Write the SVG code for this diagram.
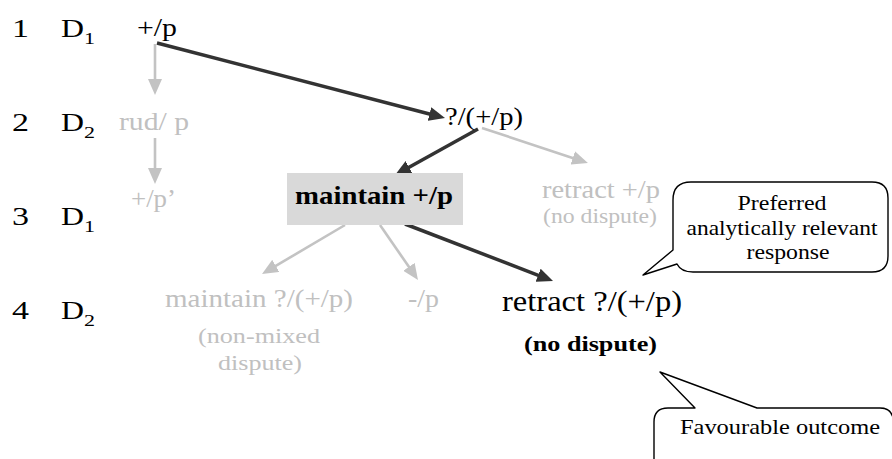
<svg xmlns="http://www.w3.org/2000/svg" width="892" height="459" viewBox="0 0 892 459">
  <style>
    text { font-family: "Liberation Serif", "Times New Roman", serif; font-size: 26px; fill: #000; }
    .dim { fill: #c0c0c0; }
    .bold { font-weight: bold; }
    .sub { font-size: 17px; }
    .mid { text-anchor: middle; }
    .lnk { fill: none; stroke-linecap: butt; }
    .dark { stroke: #333333; stroke-width: 3.5; marker-end: url(#headDark); }
    .soft { stroke: #c3c3c3; stroke-width: 2.6; marker-end: url(#headSoft); }
    .bubble { fill: #ffffff; stroke: #000; stroke-width: 1.4; stroke-linejoin: round; }
  </style>
  <defs>
    <marker id="headDark" viewBox="0 0 16 14" refX="3" refY="7" markerWidth="16" markerHeight="14" markerUnits="userSpaceOnUse" orient="auto">
      <path d="M0,0 L16,7 L0,14 Z" fill="#333333"/>
    </marker>
    <marker id="headSoft" viewBox="0 0 16 14" refX="3" refY="7" markerWidth="16" markerHeight="14" markerUnits="userSpaceOnUse" orient="auto">
      <path d="M0,0 L16,7 L0,14 Z" fill="#c3c3c3"/>
    </marker>
  </defs>

  <!-- move numbers and speakers -->
  <g id="rows">
    <text x="12" y="37" textLength="17" lengthAdjust="spacingAndGlyphs">1</text>
    <text x="61" y="37" textLength="23" lengthAdjust="spacingAndGlyphs">D</text>
    <text class="sub" x="84" y="44" textLength="11" lengthAdjust="spacingAndGlyphs">1</text>

    <text x="12" y="131" textLength="17" lengthAdjust="spacingAndGlyphs">2</text>
    <text x="61" y="131" textLength="23" lengthAdjust="spacingAndGlyphs">D</text>
    <text class="sub" x="84" y="138" textLength="11" lengthAdjust="spacingAndGlyphs">2</text>

    <text x="12" y="225" textLength="17" lengthAdjust="spacingAndGlyphs">3</text>
    <text x="61" y="225" textLength="23" lengthAdjust="spacingAndGlyphs">D</text>
    <text class="sub" x="84" y="232" textLength="11" lengthAdjust="spacingAndGlyphs">1</text>

    <text x="12" y="319" textLength="17" lengthAdjust="spacingAndGlyphs">4</text>
    <text x="61" y="319" textLength="23" lengthAdjust="spacingAndGlyphs">D</text>
    <text class="sub" x="84" y="326" textLength="11" lengthAdjust="spacingAndGlyphs">2</text>
  </g>

  <!-- connectors -->
  <g id="connectors" class="lnk">
    <line class="soft" x1="155" y1="44" x2="155" y2="82"/>
    <line class="soft" x1="155" y1="138" x2="155" y2="171"/>
    <line class="dark" x1="157" y1="43" x2="432.4" y2="114.7"/>
    <line class="dark" x1="478" y1="129" x2="406.4" y2="168.7"/>
    <line class="soft" x1="482" y1="128" x2="575.6" y2="158.9"/>
    <line class="soft" x1="345" y1="225" x2="273.2" y2="267.4"/>
    <line class="soft" x1="380" y1="225" x2="410.6" y2="269.3"/>
    <line class="dark" x1="405" y1="224" x2="540.9" y2="276.3"/>
  </g>

  <!-- nodes -->
  <g id="n-claim">
    <text x="137" y="36" textLength="40" lengthAdjust="spacingAndGlyphs">+/p</text>
  </g>
  <g id="n-rud">
    <text class="dim" x="119" y="130" textLength="70" lengthAdjust="spacingAndGlyphs">rud/ p</text>
  </g>
  <g id="n-claim-prime">
    <text class="dim" x="131" y="207" textLength="45" lengthAdjust="spacingAndGlyphs">+/p’</text>
  </g>
  <g id="n-doubt">
    <text x="445" y="125" textLength="78" lengthAdjust="spacingAndGlyphs">?/(+/p)</text>
  </g>
  <g id="n-maintain">
    <rect x="287" y="173" width="176" height="52" fill="#d9d9d9"/>
    <text class="bold" x="295" y="204" textLength="158" lengthAdjust="spacingAndGlyphs">maintain +/p</text>
  </g>
  <g id="n-retract-claim">
    <text class="dim" x="542" y="198" textLength="118" lengthAdjust="spacingAndGlyphs">retract +/p</text>
    <text class="dim" x="543" y="223" style="font-size:20px" textLength="114" lengthAdjust="spacingAndGlyphs">(no dispute)</text>
  </g>
  <g id="n-maintain-doubt">
    <text class="dim" x="165" y="307" textLength="188" lengthAdjust="spacingAndGlyphs">maintain ?/(+/p)</text>
    <text class="dim" x="198" y="343" style="font-size:22px" textLength="122" lengthAdjust="spacingAndGlyphs">(non-mixed</text>
    <text class="dim" x="218" y="370" style="font-size:22px" textLength="84" lengthAdjust="spacingAndGlyphs">dispute)</text>
  </g>
  <g id="n-counter">
    <text class="dim" x="408" y="307" textLength="31" lengthAdjust="spacingAndGlyphs">-/p</text>
  </g>
  <g id="n-retract-doubt">
    <text x="502" y="311" style="font-size:29px" textLength="180" lengthAdjust="spacingAndGlyphs">retract ?/(+/p)</text>
    <text class="bold" x="524" y="351" style="font-size:22px" textLength="133" lengthAdjust="spacingAndGlyphs">(no dispute)</text>
  </g>

  <!-- callouts -->
  <g id="c-preferred">
    <path class="bubble" d="M691,182 H872 Q888,182 888,198 V256 Q888,272 872,272 H693 Q681,272 677,264 L643,275 L673,250 V200 Q673,182 691,182 Z"/>
    <text class="mid" x="782" y="210" style="font-size:21px" textLength="89" lengthAdjust="spacingAndGlyphs">Preferred</text>
    <text class="mid" x="782" y="235" style="font-size:21px" textLength="191" lengthAdjust="spacingAndGlyphs">analytically relevant</text>
    <text class="mid" x="788" y="259" style="font-size:21px" textLength="83" lengthAdjust="spacingAndGlyphs">response</text>
  </g>
  <g id="c-favourable">
    <path class="bubble" d="M654,462 V422 Q654,408 668,408 H695 L660,372 L757,408 H880 Q891,408 893,418 V462"/>
    <text x="680" y="434" style="font-size:21px" textLength="200" lengthAdjust="spacingAndGlyphs">Favourable outcome</text>
  </g>
</svg>
